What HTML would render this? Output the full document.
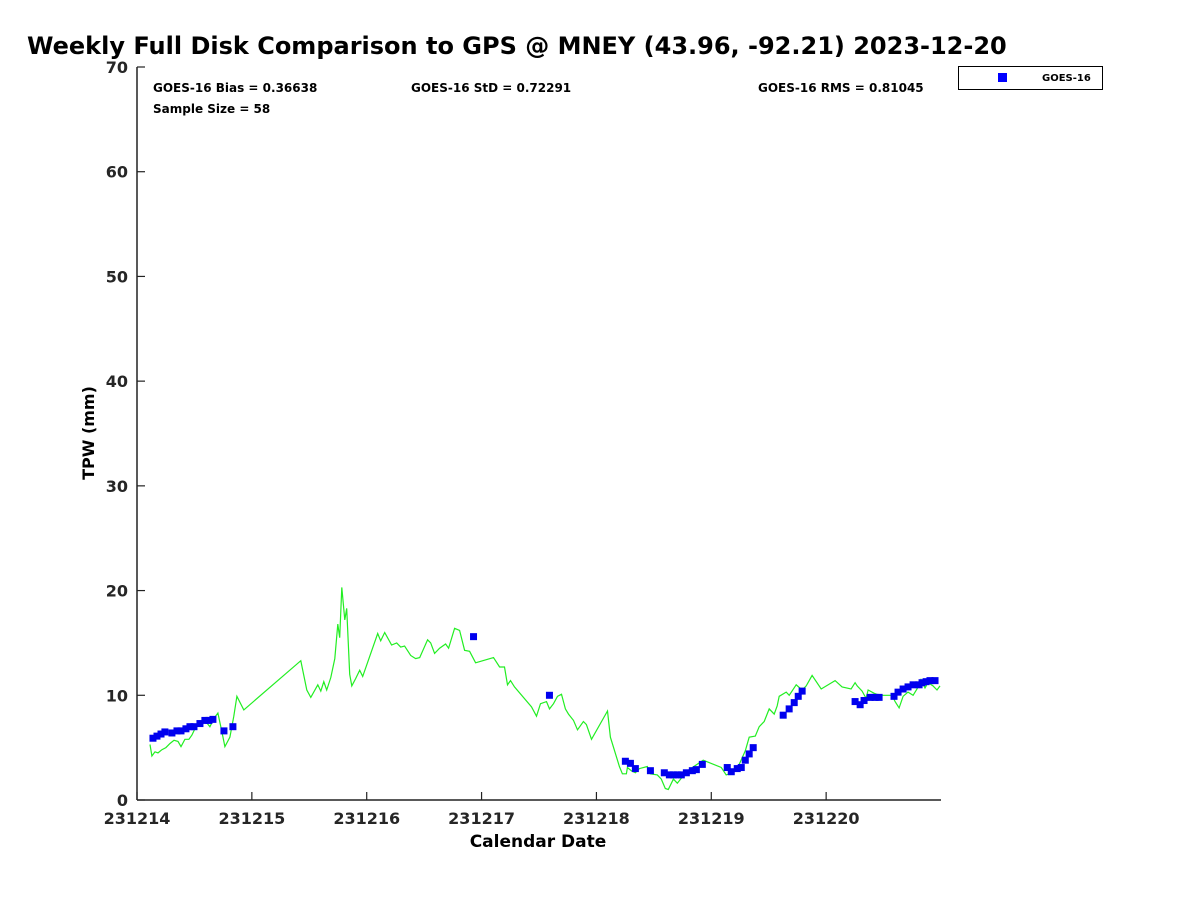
<!DOCTYPE html>
<html><head><meta charset="utf-8"><style>
body{margin:0;background:#fff;font-family:"Liberation Sans","DejaVu Sans",sans-serif}
</style></head><body>
<svg width="1200" height="900" xmlns="http://www.w3.org/2000/svg" style="font-family:'DejaVu Sans','Liberation Sans',sans-serif">
<rect width="1200" height="900" fill="#fff"/>
<text x="27" y="54" font-size="24" font-weight="bold">Weekly Full Disk Comparison to GPS @ MNEY (43.96, -92.21) 2023-12-20</text>
<g id="axes"></g>
<g id="marks"></g>
<text x="153" y="92" font-size="12" font-weight="bold">GOES-16 Bias = 0.36638</text>
<text x="411" y="92" font-size="12" font-weight="bold">GOES-16 StD = 0.72291</text>
<text x="758" y="92" font-size="12" font-weight="bold">GOES-16 RMS = 0.81045</text>
<text x="153" y="113" font-size="12" font-weight="bold">Sample Size = 58</text>
<g>
<rect x="958.5" y="66.5" width="144" height="23" fill="#fff" stroke="#000" stroke-width="1"/>
<rect x="998" y="73" width="9" height="9" fill="#0000ff"/>
<text x="1042" y="81" font-size="10" font-weight="bold">GOES-16</text>
</g>
<text x="538" y="847" font-size="17" font-weight="bold" text-anchor="middle">Calendar Date</text>
<text transform="translate(94,433) rotate(-90)" font-size="16" font-weight="bold" text-anchor="middle">TPW (mm)</text>
</svg>
<script>
const xTickLabels=["231214","231215","231216","231217","231218","231219","231220"];
const yTicks=[0,10,20,30,40,50,60,70];
const gpsDays=[.113,.130,.157,.183,.217,.252,.287,.322,.357,.383,.417,.452,.478,.513,.548,.591,.635,.670,.704,.739,.765,.809,.843,.870,.930,1.426,1.478,1.513,1.574,1.600,1.626,1.652,1.687,1.722,1.748,1.765,1.783,1.809,1.826,1.852,1.870,1.904,1.939,1.965,2.096,2.122,2.157,2.217,2.261,2.296,2.330,2.383,2.426,2.461,2.530,2.557,2.591,2.635,2.687,2.713,2.765,2.809,2.852,2.896,2.948,3.104,3.157,3.200,3.226,3.252,3.287,3.435,3.478,3.513,3.565,3.591,3.626,3.661,3.696,3.730,3.757,3.800,3.835,3.887,3.913,3.957,4.096,4.122,4.200,4.226,4.261,4.270,4.304,4.339,4.374,4.443,4.470,4.530,4.565,4.600,4.626,4.670,4.704,4.748,4.809,4.930,5.087,5.130,5.183,5.243,5.296,5.330,5.383,5.417,5.461,5.504,5.548,5.574,5.591,5.652,5.678,5.739,5.791,5.826,5.878,5.957,6.078,6.139,6.217,6.252,6.270,6.313,6.348,6.365,6.417,6.461,6.574,6.600,6.635,6.670,6.713,6.757,6.791,6.826,6.861,6.887,6.930,6.965,6.991];
const gpsTPW=[5.3,4.2,4.6,4.5,4.8,5.0,5.4,5.7,5.6,5.1,5.8,5.8,6.2,7.0,7.5,7.6,7.0,7.8,8.3,6.5,5.1,6.0,8.0,9.9,8.6,13.3,10.5,9.8,11.0,10.4,11.3,10.5,11.7,13.5,16.8,15.5,20.3,17.2,18.3,12.0,10.9,11.6,12.4,11.8,15.9,15.2,16.0,14.8,15.0,14.6,14.7,13.8,13.5,13.6,15.3,15.0,14.0,14.5,14.9,14.5,16.4,16.2,14.3,14.2,13.1,13.6,12.7,12.7,11.0,11.4,10.8,8.9,8.0,9.2,9.4,8.7,9.2,9.9,10.1,8.7,8.2,7.6,6.7,7.5,7.2,5.8,8.5,6.0,3.2,2.5,2.5,3.1,2.8,2.6,3.0,3.2,2.5,2.4,2.0,1.1,1.0,2.0,1.6,2.2,2.9,3.8,3.1,2.4,2.6,3.4,4.7,6.0,6.1,7.0,7.5,8.7,8.2,9.0,9.9,10.3,10.0,11.0,10.5,10.9,11.9,10.6,11.4,10.8,10.6,11.2,10.9,10.4,9.7,10.5,10.2,10.0,10.0,9.4,8.8,9.9,10.3,10.0,10.6,11.5,10.7,11.2,10.9,10.5,10.9];
const goesDays=[.139,.174,.209,.243,.304,.348,.383,.426,.461,.496,.548,.591,.626,.661,.757,.835,2.930,3.591,4.252,4.296,4.339,4.470,4.591,4.635,4.670,4.704,4.739,4.783,4.835,4.870,4.922,5.139,5.174,5.226,5.261,5.296,5.330,5.365,5.626,5.678,5.722,5.757,5.791,6.252,6.296,6.330,6.383,6.426,6.461,6.591,6.626,6.670,6.713,6.757,6.809,6.835,6.870,6.904,6.948];
const goesTPW=[5.9,6.1,6.3,6.5,6.4,6.6,6.6,6.8,7.0,7.0,7.3,7.6,7.6,7.7,6.6,7.0,15.6,10.0,3.7,3.5,3.0,2.8,2.6,2.4,2.4,2.4,2.4,2.6,2.8,2.9,3.4,3.1,2.7,3.0,3.1,3.8,4.4,5.0,8.1,8.7,9.3,9.9,10.4,9.4,9.1,9.5,9.8,9.8,9.8,9.9,10.3,10.6,10.8,11.0,11.0,11.2,11.3,11.4,11.4];
const NS="http://www.w3.org/2000/svg";
const X0=137,X1=941,Y0=800,Y1=67;
const xs=d=>X0+d*(X1-X0)/7, ys=v=>Y0-v*(Y0-Y1)/70;
const axes=document.getElementById('axes'),marks=document.getElementById('marks');
function mk(tag,attrs,parent){const e=document.createElementNS(NS,tag);for(const k in attrs)e.setAttribute(k,attrs[k]);parent.appendChild(e);return e;}
const ya=mk('line',{x1:X0,y1:Y1,x2:X0,y2:Y0,stroke:'#222','stroke-width':1.5},axes);


const xa=mk('line',{x1:X0,y1:Y0,x2:X1,y2:Y0,stroke:'#222','stroke-width':1.5},axes);


yTicks.forEach(v=>{
 const t=mk('line',{x1:X0,y1:ys(v),x2:X0+8,y2:ys(v),stroke:'#222','stroke-width':1.2},axes);
 
 
 const l=mk('text',{x:X0-9,y:ys(v)+6,'font-size':16,'font-weight':'bold','text-anchor':'end',fill:'#262626'},axes);
 
 
 l.textContent=v;
});
xTickLabels.forEach((s,i)=>{
 const t=mk('line',{x1:xs(i),y1:Y0,x2:xs(i),y2:Y0-8,stroke:'#222','stroke-width':1.2},axes);
 
 
 const l=mk('text',{x:xs(i),y:Y0+24,'font-size':16,'font-weight':'bold','text-anchor':'middle',fill:'#262626'},axes);
 
 
 l.textContent=s;
});
const pl=mk('polyline',{points:gpsDays.map((d,i)=>xs(d).toFixed(1)+','+ys(gpsTPW[i]).toFixed(1)).join(' '),fill:'none',stroke:'#22ee22','stroke-width':1.2},marks);


goesDays.forEach((d,i)=>{
 const r=mk('rect',{x:xs(d)-3.5,y:ys(goesTPW[i])-3.5,width:7,height:7,fill:'#0000ee'},marks);
 
 
});
</script>
</body></html>
